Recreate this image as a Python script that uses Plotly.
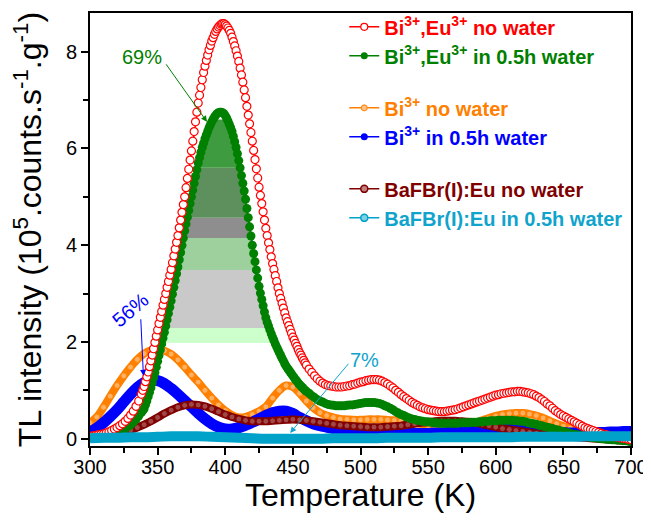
import numpy as np
import plotly.graph_objects as go

# ---------------- data ----------------
# Bi3+,Eu3+ no water (red)
red_x = list(range(300, 339, 2)) + list(range(339, 461)) + list(range(462, 701, 2))
red_y = [0.05, 0.06, 0.07, 0.08, 0.09, 0.10, 0.12, 0.14, 0.17, 0.20,
         0.23, 0.27, 0.31, 0.36, 0.42, 0.49, 0.57, 0.67, 0.78, 0.92,
         # 339..460 step 1
         1.0, 1.08, 1.18, 1.28, 1.38, 1.49, 1.61, 1.73, 1.86, 1.99,
         2.12, 2.25, 2.38, 2.51, 2.63, 2.76, 2.88, 3.0, 3.13, 3.25,
         3.38, 3.5, 3.64, 3.78, 3.92, 4.06, 4.2, 4.36, 4.52, 4.68,
         4.84, 5.0, 5.19, 5.38, 5.57, 5.76, 5.95, 6.15, 6.35, 6.55,
         6.75, 6.94, 7.1, 7.26, 7.42, 7.57, 7.7, 7.82, 7.93, 8.04,
         8.13, 8.22, 8.29, 8.36, 8.42, 8.47, 8.51, 8.54, 8.57, 8.58,
         8.58, 8.56, 8.53, 8.49, 8.44, 8.38, 8.3, 8.21, 8.12, 8.02,
         7.91, 7.8, 7.66, 7.52, 7.37, 7.21, 7.05, 6.87, 6.69, 6.51,
         6.33, 6.15, 5.96, 5.77, 5.58, 5.39, 5.2, 5.03, 4.86, 4.69,
         4.52, 4.35, 4.2, 4.05, 3.91, 3.76, 3.62, 3.5, 3.37, 3.25,
         3.12, 3.0, 2.9, 2.8, 2.7, 2.6, 2.5, 2.42, 2.34, 2.26,
         2.18, 2.1, 2.04, 1.97, 1.91, 1.84, 1.78, 1.73, 1.67, 1.62,
         1.57, 1.52,
         # 462..700 step 2
         1.44, 1.37, 1.3, 1.24, 1.19, 1.15, 1.12, 1.1, 1.09, 1.08,
         1.07, 1.07, 1.07, 1.08, 1.09, 1.1, 1.12, 1.13, 1.15, 1.17,
         1.18, 1.2, 1.21, 1.22, 1.22, 1.22, 1.21, 1.19, 1.16, 1.13,
         1.09, 1.05, 1.0, 0.96, 0.91, 0.87, 0.83, 0.79, 0.75, 0.72,
         0.69, 0.66, 0.64, 0.62, 0.6, 0.59, 0.58, 0.57, 0.56, 0.56,
         0.56, 0.57, 0.58, 0.59, 0.6, 0.62, 0.64, 0.66, 0.68, 0.7,
         0.72, 0.74, 0.76, 0.78, 0.8, 0.82, 0.84, 0.86, 0.88, 0.9,
         0.91, 0.93, 0.94, 0.95, 0.96, 0.97, 0.97, 0.98, 0.98, 0.97,
         0.96, 0.95, 0.93, 0.91, 0.88, 0.85, 0.81, 0.77, 0.72, 0.68,
         0.63, 0.58, 0.54, 0.5, 0.47, 0.44, 0.41, 0.38, 0.35, 0.32,
         0.29, 0.26, 0.23, 0.21, 0.19, 0.17, 0.15, 0.13, 0.11, 0.09,
         0.08, 0.06, 0.05, 0.04, 0.03, 0.02, 0.01, 0.0, -0.01, -0.02]

# Bi3+,Eu3+ in 0.5h water (green)
green_x = list(range(300, 339, 2)) + list(range(339, 461)) + list(range(462, 701, 2))
green_y = [0.03, 0.03, 0.04, 0.04, 0.05, 0.06, 0.07, 0.08, 0.09, 0.11,
           0.13, 0.15, 0.18, 0.21, 0.25, 0.29, 0.34, 0.4, 0.47, 0.54,
           # 339..460 step 1
           0.58, 0.62, 0.7, 0.78, 0.87, 0.96, 1.05, 1.15, 1.26, 1.37,
           1.48, 1.6, 1.72, 1.84, 1.96, 2.08, 2.2, 2.33, 2.46, 2.59,
           2.72, 2.85, 2.99, 3.13, 3.27, 3.41, 3.55, 3.7, 3.85, 4.0,
           4.15, 4.3, 4.44, 4.58, 4.72, 4.86, 5.0, 5.14, 5.28, 5.42,
           5.56, 5.7, 5.81, 5.92, 6.02, 6.11, 6.2, 6.28, 6.35, 6.43,
           6.49, 6.55, 6.6, 6.65, 6.69, 6.72, 6.74, 6.75, 6.75, 6.74,
           6.72, 6.68, 6.63, 6.57, 6.5, 6.43, 6.35, 6.25, 6.14, 6.02,
           5.89, 5.75, 5.6, 5.44, 5.28, 5.12, 4.95, 4.76, 4.57, 4.38,
           4.19, 4.0, 3.83, 3.66, 3.49, 3.32, 3.15, 3.01, 2.88, 2.75,
           2.62, 2.5, 2.41, 2.33, 2.25, 2.17, 2.1, 2.03, 1.96, 1.9,
           1.84, 1.78, 1.72, 1.66, 1.61, 1.55, 1.5, 1.46, 1.42, 1.38,
           1.34, 1.3, 1.26, 1.22, 1.19, 1.15, 1.12, 1.09, 1.06, 1.03,
           1.0, 0.98,
           # 462..700 step 2
           0.94, 0.89, 0.85, 0.81, 0.78, 0.76, 0.73, 0.71, 0.7, 0.69,
           0.68, 0.68, 0.68, 0.68, 0.69, 0.7, 0.7, 0.71, 0.72, 0.73,
           0.74, 0.75, 0.75, 0.75, 0.75, 0.74, 0.73, 0.71, 0.68, 0.66,
           0.63, 0.6, 0.56, 0.53, 0.5, 0.48, 0.45, 0.43, 0.41, 0.4,
           0.38, 0.37, 0.36, 0.35, 0.35, 0.34, 0.33, 0.33, 0.32, 0.32,
           0.32, 0.32, 0.32, 0.32, 0.32, 0.32, 0.33, 0.33, 0.33, 0.33,
           0.34, 0.34, 0.34, 0.35, 0.35, 0.36, 0.36, 0.37, 0.37, 0.37,
           0.38, 0.38, 0.38, 0.38, 0.38, 0.38, 0.37, 0.37, 0.36, 0.36,
           0.35, 0.33, 0.32, 0.31, 0.3, 0.28, 0.27, 0.25, 0.24, 0.22,
           0.21, 0.19, 0.18, 0.16, 0.15, 0.13, 0.12, 0.1, 0.09, 0.08,
           0.07, 0.06, 0.05, 0.04, 0.03, 0.02, 0.02, 0.01, 0.0, 0.0,
           -0.01, -0.01, -0.02, -0.02, -0.03, -0.03, -0.04, -0.04, -0.05, -0.06]

# 5 K grid series
t5 = list(range(300, 701, 5))
orange_y = [0.33, 0.45, 0.65, 0.88, 1.1, 1.3, 1.48, 1.64, 1.76, 1.83,
            1.85, 1.82, 1.75, 1.63, 1.48, 1.32, 1.17, 1.0, 0.84, 0.7,
            0.58, 0.49, 0.44, 0.45, 0.5, 0.57, 0.66, 0.84, 1.0, 1.1,
            1.07, 0.94, 0.78, 0.64, 0.54, 0.48, 0.44, 0.41, 0.4, 0.39,
            0.39, 0.4, 0.4, 0.4, 0.39, 0.38, 0.37, 0.35, 0.33, 0.3,
            0.27, 0.24, 0.21, 0.2, 0.21, 0.24, 0.28, 0.33, 0.38, 0.43,
            0.47, 0.5, 0.52, 0.53, 0.53, 0.51, 0.48, 0.43, 0.37, 0.31,
            0.26, 0.22, 0.18, 0.15, 0.13, 0.11, 0.1, 0.09, 0.08, 0.08, 0.08]
blue_y = [0.14, 0.22, 0.33, 0.46, 0.6, 0.76, 0.92, 1.06, 1.16, 1.21,
          1.2, 1.14, 1.04, 0.92, 0.79, 0.66, 0.53, 0.41, 0.31, 0.24,
          0.2, 0.2, 0.23, 0.28, 0.34, 0.41, 0.48, 0.54, 0.57, 0.57,
          0.52, 0.44, 0.37, 0.31, 0.27, 0.24, 0.21, 0.19, 0.17, 0.15,
          0.14, 0.13, 0.12, 0.12, 0.11, 0.11, 0.11, 0.11, 0.11, 0.11,
          0.11, 0.12, 0.12, 0.13, 0.14, 0.15, 0.16, 0.18, 0.2, 0.21,
          0.23, 0.24, 0.24, 0.24, 0.23, 0.21, 0.19, 0.17, 0.15, 0.14,
          0.13, 0.12, 0.12, 0.12, 0.12, 0.13, 0.13, 0.14, 0.14, 0.15, 0.15]
brown_y = [0.05, 0.06, 0.07, 0.09, 0.11, 0.14, 0.18, 0.23, 0.29, 0.36,
           0.44, 0.52, 0.59, 0.65, 0.69, 0.71, 0.7, 0.67, 0.62, 0.56,
           0.5, 0.45, 0.41, 0.38, 0.36, 0.36, 0.36, 0.37, 0.38, 0.39,
           0.4, 0.39, 0.38, 0.36, 0.34, 0.32, 0.3, 0.28, 0.27, 0.26,
           0.25, 0.24, 0.24, 0.24, 0.25, 0.26, 0.27, 0.29, 0.31, 0.33,
           0.34, 0.36, 0.37, 0.37, 0.37, 0.36, 0.35, 0.33, 0.3, 0.27,
           0.24, 0.21, 0.19, 0.17, 0.15, 0.13, 0.11, 0.09, 0.08, 0.06,
           0.05, 0.04, 0.03, 0.02, 0.01, 0.0, -0.01, -0.02, -0.03, -0.04, -0.05]
t10 = list(range(300, 701, 10))
cyan_y = [0.01, 0.02, 0.02, 0.03, 0.03, 0.04, 0.05, 0.05, 0.05, 0.04,
          0.03, 0.02, 0.01, 0.0, 0.0, 0.0, 0.0, 0.0, 0.01, 0.01,
          0.01, 0.01, 0.02, 0.02, 0.02, 0.02, 0.03, 0.03, 0.03, 0.03,
          0.03, 0.03, 0.04, 0.04, 0.04, 0.04, 0.04, 0.05, 0.05, 0.05, 0.05]

# shaded bands under the green peak
band_edges = [1.98, 2.29, 3.49, 4.15, 4.57, 5.6, 6.6]
band_colors = ["#ccffcc", "#c9c9c9", "#9dd09d", "#8e8e8e", "#5e905e", "#3f9b3f"]

names = [
    "<b><span style='color:#ff0000'>Bi<sup>3+</sup>,Eu<sup>3+</sup> no water</span></b>",
    "<b><span style='color:#008000'>Bi<sup>3+</sup>,Eu<sup>3+</sup> in 0.5h water</span></b>",
    "<b><span style='color:#ff8000'>Bi<sup>3+</sup> no water</span></b>",
    "<b><span style='color:#0000ff'>Bi<sup>3+</sup> in 0.5h water</span></b>",
    "<b><span style='color:#800000'>BaFBr(I):Eu no water</span></b>",
    "<b><span style='color:#10a4cc'>BaFBr(I):Eu in 0.5h water</span></b>",
]

FONT = "Arial, 'Liberation Sans', sans-serif"
fig = go.Figure()

# ---- bands: polygons bounded by the green curve ----
gx = np.array(green_x, float)
gy = np.array(green_y, float)
ip = int(np.argmax(gy))
rx, ry = gx[:ip + 1], gy[:ip + 1]
fx, fy = gx[ip:][::-1], gy[ip:][::-1]
mr = np.concatenate([[True], np.diff(ry) > 0])
mf = np.concatenate([[True], np.diff(fy) > 0])
rx, ry = rx[mr], ry[mr]
fx, fy = fx[mf], fy[mf]
for lo, hi, col in zip(band_edges[:-1], band_edges[1:], band_colors):
    xl_lo, xl_hi = np.interp(lo, ry, rx), np.interp(hi, ry, rx)
    xr_lo, xr_hi = np.interp(lo, fy, fx), np.interp(hi, fy, fx)
    sel_l = (ry > lo) & (ry < hi)
    sel_r = (fy > lo) & (fy < hi)
    px = [xl_lo] + list(rx[sel_l]) + [xl_hi, xr_hi] + list(fx[sel_r][::-1]) + [xr_lo]
    py = [lo] + list(ry[sel_l]) + [hi, hi] + list(fy[sel_r][::-1]) + [lo]
    fig.add_trace(go.Scatter(x=px, y=py, mode="lines", fill="toself", fillcolor=col,
                             line=dict(width=0), showlegend=False, hoverinfo="skip"))

# ---- curves ----
fig.add_trace(go.Scatter(x=t5, y=orange_y, mode="lines+markers", line=dict(color="#ff8000", width=8, shape="spline"),
                         marker=dict(symbol="circle", size=6, color="#ffb060", line=dict(color="#ff8000", width=1)),
                         showlegend=False))
fig.add_trace(go.Scatter(x=t5, y=blue_y, mode="lines+markers", line=dict(color="#0000ff", width=11, shape="spline"),
                         marker=dict(symbol="circle", size=10, color="#0000ff"),
                         showlegend=False))
fig.add_trace(go.Scatter(x=t5, y=brown_y, mode="lines+markers", line=dict(color="#800000", width=8, shape="spline"),
                         marker=dict(symbol="circle", size=6, color="#a04848", line=dict(color="#800000", width=1)),
                         showlegend=False))
fig.add_trace(go.Scatter(x=green_x, y=green_y, mode="lines+markers", line=dict(color="#008000", width=2),
                         marker=dict(symbol="circle", size=9, color="#008000"),
                         showlegend=False))
fig.add_trace(go.Scatter(x=red_x, y=red_y, mode="lines+markers", line=dict(color="#ff0000", width=1.5),
                         marker=dict(symbol="circle", size=8, color="white", line=dict(color="#ff0000", width=1.2)),
                         showlegend=False))
fig.add_trace(go.Scatter(x=t10, y=cyan_y, mode="lines", line=dict(color="#00a2c9", width=10, shape="spline"),
                         showlegend=False))

# ---- legend entries (three groups) ----
leg_specs = [
    (names[0], "#ff0000", dict(symbol="circle", size=7, color="white", line=dict(color="#ff0000", width=1.2)), "a"),
    (names[1], "#008000", dict(symbol="circle", size=7, color="#008000"), "a"),
    (names[2], "#ff8000", dict(symbol="circle", size=6, color="#ffc080", line=dict(color="#ff8000", width=1)), "b"),
    (names[3], "#0000ff", dict(symbol="circle", size=7, color="#0000ff"), "b"),
    (names[4], "#800000", dict(symbol="circle", size=7, color="#c08080", line=dict(color="#800000", width=1.5)), "c"),
    (names[5], "#00a2c9", dict(symbol="circle", size=7, color="#80d0e4", line=dict(color="#00a2c9", width=1.5)), "c"),
]
for nm, col, mk, grp in leg_specs:
    fig.add_trace(go.Scatter(x=[None], y=[None], mode="lines+markers", name=nm,
                             line=dict(color=col, width=1.5), marker=mk,
                             legendgroup=grp, showlegend=True))

# ---- annotations ----
anns = [
    dict(x=338.5, y=7.89, text="69%", color="#008000", angle=0,
         ax=355.5, ay=7.77, tx=386.5, ty=6.55),
    dict(x=329.6, y=2.67, text="56%", color="#0000ff", angle=-40,
         ax=337.5, ay=2.5, tx=339.5, ty=1.3),
    dict(x=503, y=1.63, text="7%", color="#10a4cc", angle=0,
         ax=492, ay=1.58, tx=448, ty=0.12),
]
for a in anns:
    fig.add_annotation(x=a["x"], y=a["y"], text=a["text"], showarrow=False, textangle=a["angle"],
                       font=dict(family=FONT, size=20, color=a["color"]))
    fig.add_annotation(x=a["tx"], y=a["ty"], ax=a["ax"], ay=a["ay"], axref="x", ayref="y",
                       text="", showarrow=True, arrowhead=2, arrowsize=1.2, arrowwidth=1,
                       arrowcolor=a["color"], standoff=0, startstandoff=0)

# the page body has an 8px margin, so the figure is sized/offset to compensate
fig.update_layout(
    width=643, height=505,
    margin=dict(l=82, r=20, t=5, b=67, autoexpand=False),
    paper_bgcolor="white", plot_bgcolor="white",
    font=dict(family=FONT, color="black"),
    hovermode=False,
    legend=dict(x=0.47, y=1.013, xanchor="left", yanchor="top", bgcolor="rgba(0,0,0,0)",
                font=dict(family=FONT, size=20), tracegroupgap=23, traceorder="grouped",
                itemclick=False),
    xaxis=dict(range=[300, 700], showgrid=False, zeroline=False, automargin=False,
               showline=True, linecolor="black", linewidth=2, mirror=True,
               ticks="outside", ticklen=7, tickwidth=1.5, tickcolor="black",
               tickvals=[300, 350, 400, 450, 500, 550, 600, 650, 700],
               tickfont=dict(family=FONT, size=20), ticklabelstandoff=-5,
               ticklabeloverflow="allow",
               minor=dict(tickvals=[325, 375, 425, 475, 525, 575, 625, 675], ticks="outside", ticklen=5, tickwidth=1.5, tickcolor="black"),
               title=dict(text="Temperature (K)", font=dict(family=FONT, size=32), standoff=10)),
    yaxis=dict(range=[-0.15, 8.8], showgrid=False, zeroline=False, automargin=False,
               showline=True, linecolor="black", linewidth=2, mirror=True,
               ticks="outside", ticklen=7, tickwidth=1.5, tickcolor="black",
               tickvals=[0, 2, 4, 6, 8],
               tickfont=dict(family=FONT, size=20),
               minor=dict(tickvals=[1, 3, 5, 7], ticks="outside", ticklen=5, tickwidth=1.5, tickcolor="black"),
               title=dict(text="TL intensity (10<sup>5</sup>.counts.s<sup>-1</sup>.g<sup>-1</sup>)",
                          font=dict(family=FONT, size=32), standoff=18)),
)

fig.write_html("out.html")
